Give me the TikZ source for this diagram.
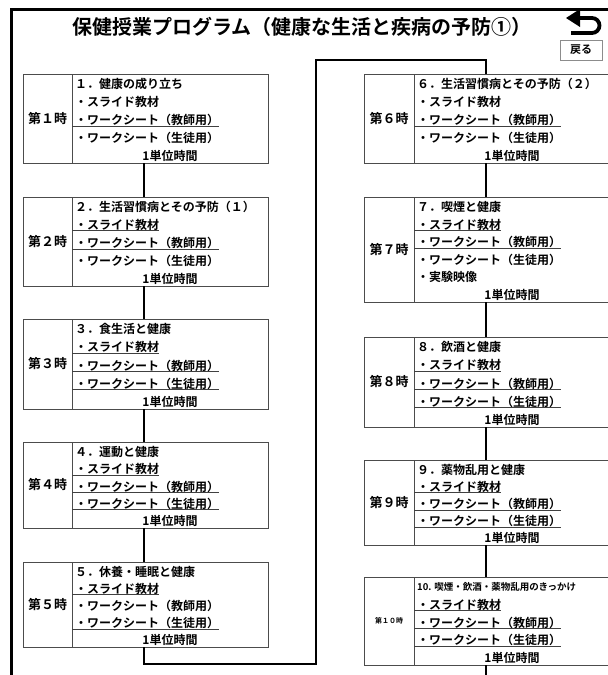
\documentclass[tikz,border=0pt]{standalone}
\usepackage{fontspec}
\setmainfont{Noto Sans CJK JP}[BoldFont=* Bold]
\usetikzlibrary{calc}
\tikzset{
  boxframe/.style={draw=black!70, line width=0.9pt, inner sep=0pt, outer sep=0pt},
  boxline/.style={draw=black!70, line width=0.9pt},
  labeltext/.style={inner sep=0pt, font=\bfseries\fontsize{13}{13}\selectfont},
  itemtext/.style={inner sep=0pt, font=\bfseries\fontsize{12}{12}\selectfont},
  uline/.style={draw=black!75, line width=0.9pt},
  conn/.style={draw=black, line width=1.1pt},
  frameline/.style={draw=black, line width=3pt},
}
\newcommand\smalltitle[1]{{\fontsize{9.5}{9.5}\selectfont #1}}
\newcommand\lessonbox[9]{%
  \node[boxframe, anchor=north west, minimum width={(#4-#2)*1pt}, minimum height={(#6-#5)*1pt}] (#1) at (#2,#5) {};
  \coordinate (#1-div) at (#3,#5);
  \draw[boxline] (#3,#5) -- (#3,#6);
  \node[labeltext] (#1-lab) at ({(#2+#3)/2},{(#5+#6)/2}) {#7};
  \foreach \t/\u [count=\i from 0] in {#9} {
    \pgfmathsetmacro\yy{#5+10+\i*(#6-#5-17)/(#8-1)}
    \ifnum\u=2
      \node[itemtext] (#1-\i) at ({(#3+#4)/2},\yy) {\t};
    \else
      \node[itemtext, anchor=west] (#1-\i) at (#3+3,\yy) {\t};
      \ifnum\u=1
        \draw[uline] (#1-div |- #1-\i.south) -- (#1-\i.south east);
      \fi
    \fi
  }
}
\begin{document}
\begin{tikzpicture}[x=1pt,y=-1pt]
\clip (0,0) rectangle (608,675);
\fill[white] (0,0) rectangle (608,675);
% frame
\draw[frameline] (11,680) -- (11,9) -- (612,9);
% title
\node[inner sep=0pt, font=\bfseries\fontsize{20}{20}\selectfont] (title) at (302,27) {保健授業プログラム（健康な生活と疾病の予防①）};
% return icon
\coordinate (ra) at (578,18);
\coordinate (rb) at (592,18);
\coordinate (rc) at (571,33);
\draw[line width=3.8pt] (ra) -- (rb) arc[start angle=-90, end angle=90, radius=7.5] -- (rc);
\fill (566,18) -- (580,9) -- (580,27) -- cycle;
\node[draw=black!45, line width=0.9pt, fill=white, minimum width=42pt, minimum height=20pt, inner sep=0pt, font=\bfseries\fontsize{11}{11}\selectfont] (back) at (581,50) {戻る};

% left column
\lessonbox{b1}{23}{72}{268}{74}{163}{第１時}{5}{１．健康の成り立ち/0,・スライド教材/0,・ワークシート（教師用）/1,・ワークシート（生徒用）/0,1単位時間/2}
\lessonbox{b2}{23}{72}{268}{197}{286}{第２時}{5}{２．生活習慣病とその予防（１）/0,・スライド教材/1,・ワークシート（教師用）/1,・ワークシート（生徒用）/0,1単位時間/2}
\lessonbox{b3}{23}{72}{268}{319}{409}{第３時}{5}{３．食生活と健康/0,・スライド教材/1,・ワークシート（教師用）/1,・ワークシート（生徒用）/1,1単位時間/2}
\lessonbox{b4}{23}{72}{268}{442}{528}{第４時}{5}{４．運動と健康/0,・スライド教材/1,・ワークシート（教師用）/1,・ワークシート（生徒用）/1,1単位時間/2}
\lessonbox{b5}{23}{72}{268}{562}{647}{第５時}{5}{５．休養・睡眠と健康/0,・スライド教材/1,・ワークシート（教師用）/0,・ワークシート（生徒用）/1,1単位時間/2}
% right column
\lessonbox{b6}{364}{414}{610}{74}{163}{第６時}{5}{６．生活習慣病とその予防（２）/0,・スライド教材/0,・ワークシート（教師用）/1,・ワークシート（生徒用）/0,1単位時間/2}
\lessonbox{b7}{364}{414}{610}{197}{302}{第７時}{6}{７．喫煙と健康/0,・スライド教材/1,・ワークシート（教師用）/1,・ワークシート（生徒用）/0,・実験映像/0,1単位時間/2}
\lessonbox{b8}{364}{414}{610}{337}{427}{第８時}{5}{８．飲酒と健康/0,・スライド教材/1,・ワークシート（教師用）/1,・ワークシート（生徒用）/1,1単位時間/2}
\lessonbox{b9}{364}{414}{610}{460}{545}{第９時}{5}{９．薬物乱用と健康/0,・スライド教材/1,・ワークシート（教師用）/1,・ワークシート（生徒用）/1,1単位時間/2}
\lessonbox{b10}{364}{414}{610}{577}{665}{{\fontsize{7}{7}\selectfont 第１０時}}{5}{\smalltitle{10. 喫煙・飲酒・薬物乱用のきっかけ}/0,・スライド教材/1,・ワークシート（教師用）/1,・ワークシート（生徒用）/1,1単位時間/2}

% connectors
\coordinate (lc) at (144,0);
\coordinate (rcx) at (486,0);
\coordinate (t1) at (144,664);
\coordinate (t2) at (316,664);
\coordinate (t3) at (316,60);
\coordinate (t4) at (486,60);
\coordinate (tend) at (486,680);
\draw[conn] (lc |- b1.south) -- (lc |- b2.north);
\draw[conn] (lc |- b2.south) -- (lc |- b3.north);
\draw[conn] (lc |- b3.south) -- (lc |- b4.north);
\draw[conn] (lc |- b4.south) -- (lc |- b5.north);
\draw[conn] (lc |- b5.south) -- (t1) -- (t2) -- (t3) -- (t4) -- (rcx |- b6.north);
\draw[conn] (rcx |- b6.south) -- (rcx |- b7.north);
\draw[conn] (rcx |- b7.south) -- (rcx |- b8.north);
\draw[conn] (rcx |- b8.south) -- (rcx |- b9.north);
\draw[conn] (rcx |- b9.south) -- (rcx |- b10.north);
\draw[conn] (rcx |- b10.south) -- (tend);
\end{tikzpicture}
\end{document}
